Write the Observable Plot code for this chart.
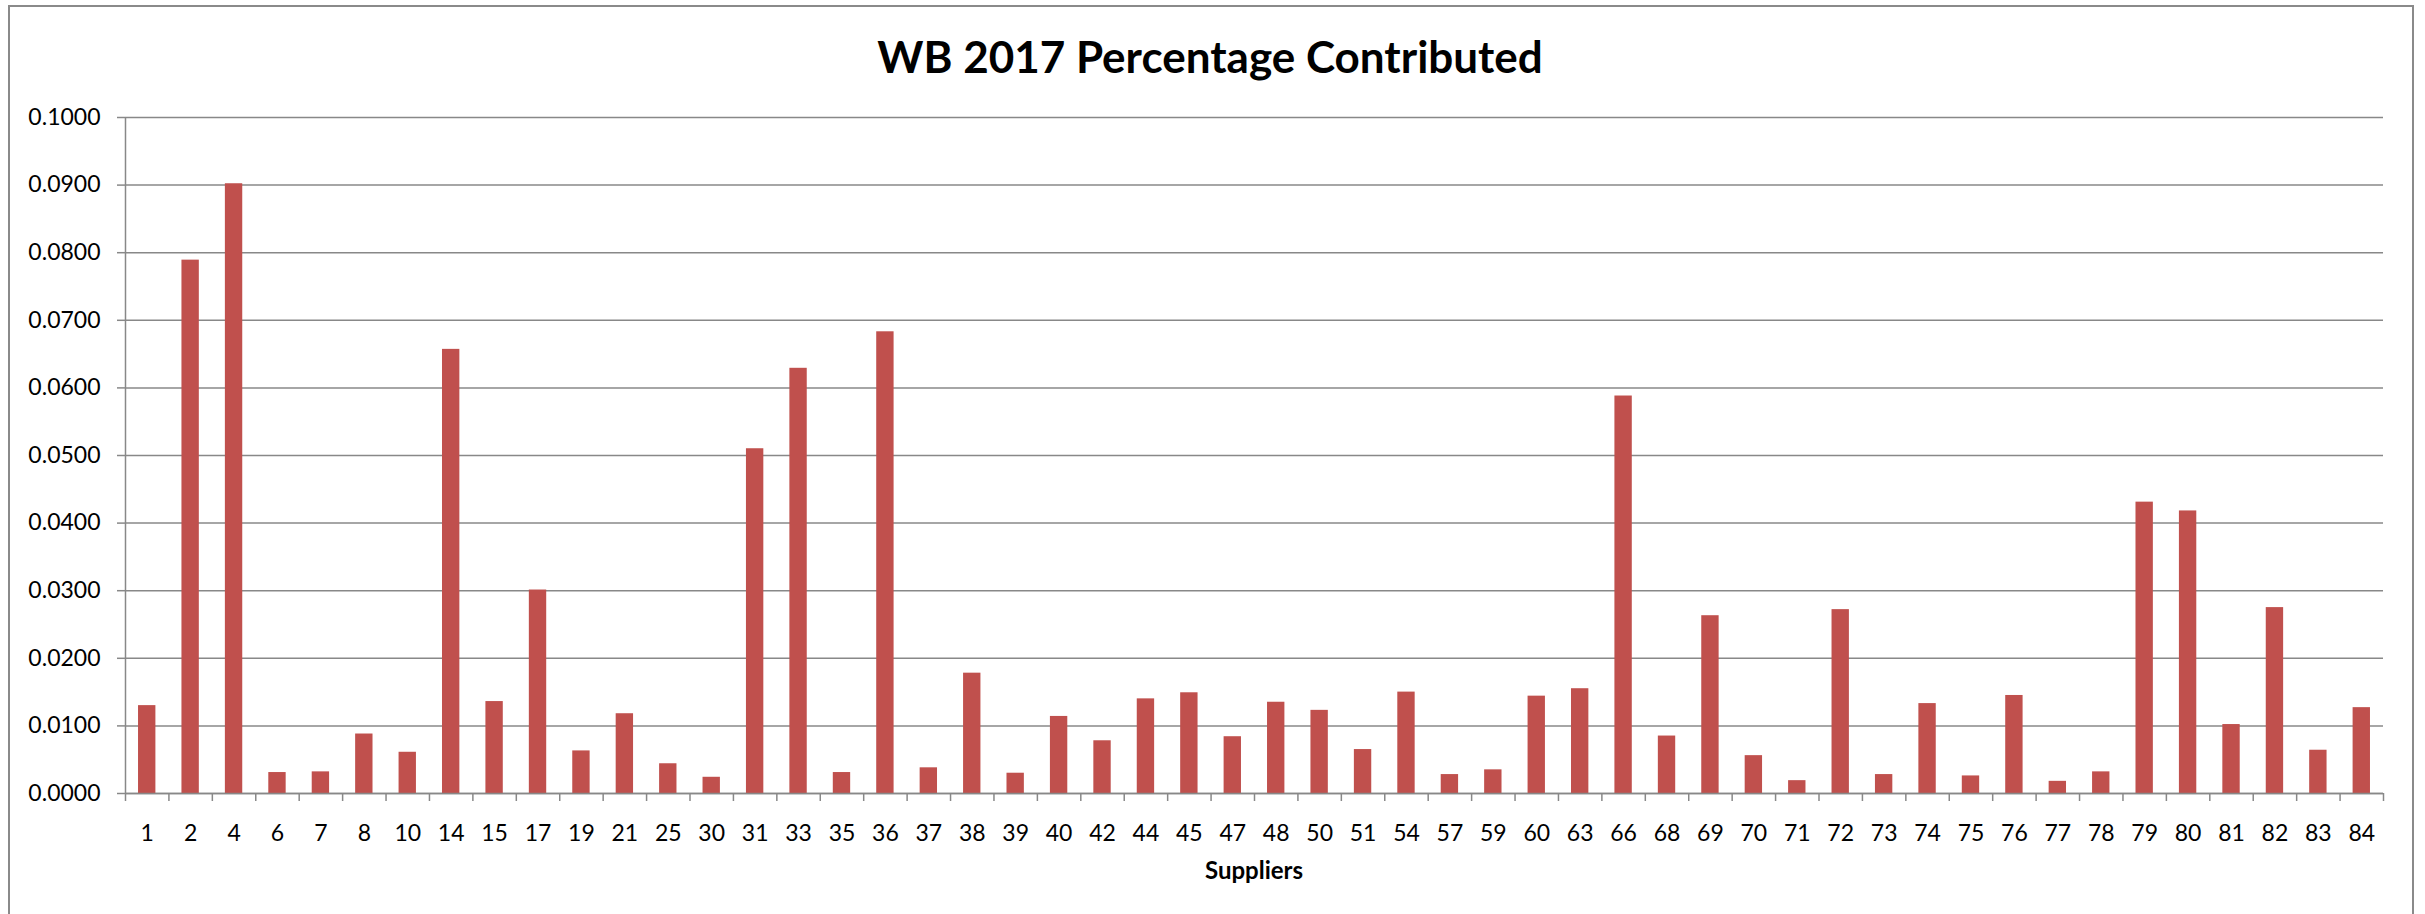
<!DOCTYPE html>
<html>
<head>
<meta charset="utf-8">
<script src="https://cdn.jsdelivr.net/npm/d3@7"></script>
<script src="https://cdn.jsdelivr.net/npm/@observablehq/plot@0.6"></script>
<style>
  html, body { margin: 0; padding: 0; background: #fff; overflow: hidden; width: 2425px; height: 914px; }
  #wrap { position: relative; width: 2425px; height: 914px; font-family: Lato, "Open Sans", sans-serif; }
  #border { position: absolute; left: 8px; top: 5px; width: 2406px; height: 1000px; border: 2px solid #8a8a8a; box-sizing: border-box; }
  #chart { position: absolute; left: 0; top: 0; }
  #title { position: absolute; left: 0; width: 2420px; top: 33px; line-height: 46px; text-align: center; font-weight: bold; font-size: 44px; color: #000; }
  #xlabel { position: absolute; left: 0; width: 2508px; top: 857px; line-height: 26px; text-align: center; font-weight: bold; font-size: 24px; color: #000; }
</style>
</head>
<body>
<div id="wrap">
  <div id="border"></div>
  <div id="chart"></div>
  <div id="title">WB 2017 Percentage Contributed</div>
  <div id="xlabel">Suppliers</div>
</div>
<script>
const suppliers = ["1","2","4","6","7","8","10","14","15","17","19","21","25","30","31","33","35","36","37","38","39","40","42","44","45","47","48","50","51","54","57","59","60","63","66","68","69","70","71","72","73","74","75","76","77","78","79","80","81","82","83","84"];
const values = [0.0130,0.0789,0.0902,0.0031,0.0032,0.0088,0.0061,0.0657,0.0136,0.0301,0.0063,0.0118,0.0044,0.0024,0.0510,0.0629,0.0031,0.0683,0.0038,0.0178,0.0030,0.0114,0.0078,0.0140,0.0149,0.0084,0.0135,0.0123,0.0065,0.0150,0.0028,0.0035,0.0144,0.0155,0.0588,0.0085,0.0263,0.0056,0.0019,0.0272,0.0028,0.0133,0.0026,0.0145,0.0018,0.0032,0.0431,0.0418,0.0102,0.0275,0.0064,0.0127];
const yTicks = [0,0.01,0.02,0.03,0.04,0.05,0.06,0.07,0.08,0.09,0.1];

const data = suppliers.map((s, i) => ({supplier: s, value: values[i]}));

const W = 2425, H = 914, ml = 125, mr = 42, mt = 117, mb = 121;
const step = (W - ml - mr) / suppliers.length;
const grey = "#888888";

const chart = Plot.plot({
  width: W, height: H,
  marginLeft: ml, marginRight: mr, marginTop: mt, marginBottom: mb,
  style: { fontFamily: "Lato, 'Open Sans', sans-serif", fontSize: "23px", color: "#000", background: "transparent", overflow: "visible" },
  x: { domain: suppliers, paddingInner: 0.6, paddingOuter: 0.3, round: false, axis: null, label: null },
  y: { domain: [0, 0.1], axis: null, label: null },
  marks: [
    Plot.gridY(yTicks, { stroke: grey, strokeOpacity: 1, strokeWidth: 1.5 }),
    Plot.barY(data, { x: "supplier", y: "value", fill: "#C0504D" }),
    Plot.ruleX([suppliers[0]], { dx: -step / 2, y1: 0, y2: 0.1, stroke: grey, strokeWidth: 1.5 }),
    Plot.ruleY([0], { stroke: grey, strokeWidth: 1.5 }),
    Plot.axisY({ ticks: yTicks, tickFormat: d3.format(".4f"), tickSize: 8, tickPadding: 17, stroke: grey, strokeWidth: 1.5, fill: "#000", label: null }),
    Plot.axisX({ tickSize: 0, tickPadding: 31, fill: "#000", label: null }),
    Plot.axisX({ tickSize: 8, dx: -step / 2, tickFormat: () => "", stroke: grey, strokeWidth: 1.5, label: null }),
    Plot.axisX({ ticks: [suppliers[suppliers.length - 1]], tickSize: 8, dx: step / 2, tickFormat: () => "", stroke: grey, strokeWidth: 1.5, label: null })
  ]
});
document.getElementById("chart").appendChild(chart);
</script>
</body>
</html>
